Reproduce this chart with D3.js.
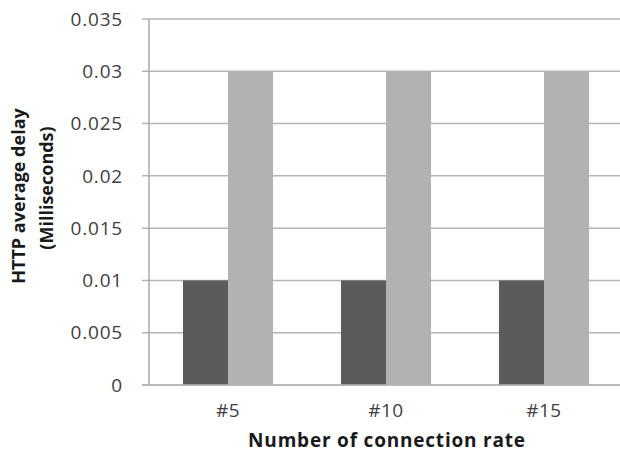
<!DOCTYPE html>
<html><head><meta charset="utf-8">
<script src="https://cdn.jsdelivr.net/npm/d3@7"></script>
<style>body{margin:0;background:#fff}svg{display:block}</style>
</head><body><svg id="c" width="620" height="461"></svg>
<script>
const categories = ["#5", "#10", "#15"];
const seriesNames = ["Series A", "Series B"];
const seriesA = [0.01, 0.01, 0.01];
const seriesB = [0.03, 0.03, 0.03];
const yTicks = [0, 0.005, 0.01, 0.015, 0.02, 0.025, 0.03, 0.035];
const yTickLabels = ["0", "0.005", "0.01", "0.015", "0.02", "0.025", "0.03", "0.035"];
const colors = ["#5b5b5b", "#b2b2b2"];

(function () {
const svg = d3.select("#c");
const pLeft = 149, pRight = 623, pTop = 19, pBottom = 385;
const x = d3.scaleBand().domain(categories).range([pLeft, pRight]).paddingInner(0.43).paddingOuter(0.215);
const x1 = d3.scaleBand().domain(seriesNames).range([0, x.bandwidth()]);
const y = d3.scaleLinear().domain([0, 0.035]).range([pBottom, pTop]);

svg.append("g").selectAll("line").data(yTicks).join("line")
  .attr("x1", pLeft - 7).attr("x2", 620)
  .attr("y1", d => y(d)).attr("y2", d => y(d))
  .attr("stroke", "#b4b4b4").attr("stroke-width", 1.5);
svg.append("line").attr("x1", pLeft).attr("x2", pLeft).attr("y1", pTop).attr("y2", pBottom)
  .attr("stroke", "#a8a8a8").attr("stroke-width", 1.5);

const data = categories.map((c, i) => ({c, vals: [seriesA[i], seriesB[i]]}));
const g = svg.append("g").selectAll("g").data(data).join("g")
  .attr("transform", d => `translate(${x(d.c)},0)`);
g.selectAll("rect").data(d => d.vals.map((v, j) => ({v, s: seriesNames[j], j}))).join("rect")
  .attr("x", d => x1(d.s)).attr("width", x1.bandwidth())
  .attr("y", d => y(d.v)).attr("height", d => y(0) - y(d.v))
  .attr("fill", d => colors[d.j]);

svg.append("line").attr("x1", pLeft - 7).attr("x2", 620).attr("y1", pBottom).attr("y2", pBottom)
  .attr("stroke", "#b4b4b4").attr("stroke-width", 1.5);

const font = "'Open Sans', sans-serif";
svg.append("g").selectAll("text").data(yTicks).join("text")
  .attr("x", 123).attr("y", d => y(d)).attr("dy", "0.35em")
  .attr("text-anchor", "end").attr("font-family", font).attr("font-size", 19)
  .attr("letter-spacing", 0.8).attr("fill", "#404040")
  .text((d, i) => yTickLabels[i]);

svg.append("g").selectAll("text").data(categories).join("text")
  .attr("x", d => x(d) + x.bandwidth() / 2).attr("y", 410).attr("dy", "0.35em")
  .attr("text-anchor", "middle").attr("font-family", font).attr("font-size", 19)
  .attr("letter-spacing", 0.5).attr("fill", "#404040").text(d => d);

svg.append("text").attr("x", 387).attr("y", 440).attr("dy", "0.35em")
  .attr("text-anchor", "middle").attr("font-family", font).attr("font-size", 19)
  .attr("letter-spacing", 0.8)
  .attr("font-weight", "bold").attr("fill", "#1a1a1a").text("Number of connection rate");

const yt = svg.append("text").attr("transform", "translate(0,196) rotate(-90)")
  .attr("text-anchor", "middle").attr("font-family", font).attr("font-size", 18)
  .attr("font-weight", "bold").attr("fill", "#1a1a1a");
yt.append("tspan").attr("x", 0).attr("y", 25).text("HTTP average delay");
yt.append("tspan").attr("x", 8).attr("y", 53).text("(Milliseconds)");
})();
</script></body></html>
